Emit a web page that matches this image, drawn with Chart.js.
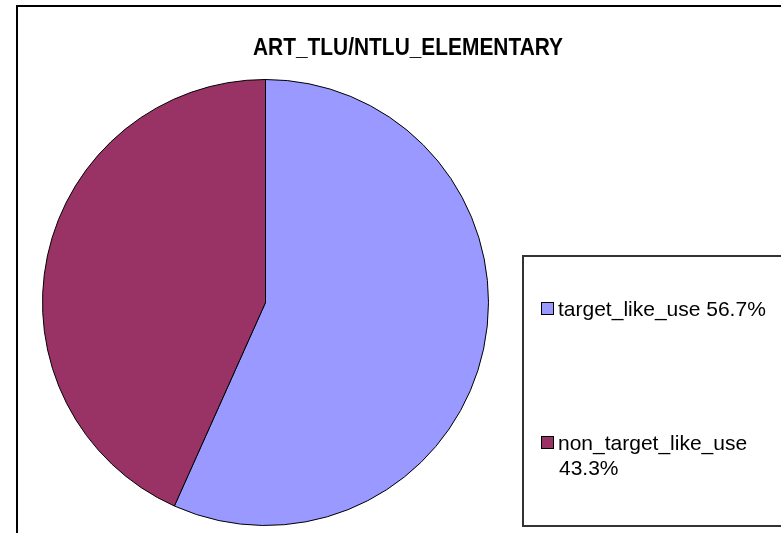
<!DOCTYPE html>
<html>
<head>
<meta charset="utf-8">
<script src="https://cdn.jsdelivr.net/npm/chart.js@4"></script>
<style>
  html, body { margin: 0; padding: 0; background: #ffffff; }
  #wrap { width: 781px; height: 533px; }
</style>
</head>
<body>
<div id="wrap"><canvas id="pie" width="781" height="533"></canvas></div>
<script>
// Chart data
const chartTitle = 'ART_TLU/NTLU_ELEMENTARY';
const categories = ['target_like_use', 'non_target_like_use'];
const shares = [56.7, 43.3];
const sliceColors = ['#9999FF', '#993366'];

// Frame, title and the boxed legend on the right
const decorations = {
  id: 'decorations',
  beforeDraw(chart) {
    const ctx = chart.ctx;
    ctx.save();
    ctx.fillStyle = '#ffffff';
    ctx.fillRect(0, 0, chart.width, chart.height);
    // outer frame (runs off the right and bottom edges)
    ctx.strokeStyle = '#000000';
    ctx.lineWidth = 2;
    ctx.strokeRect(17, 6, 900, 700);
    ctx.restore();
  },
  afterDraw(chart) {
    const ctx = chart.ctx;
    ctx.save();

    // title, slightly condensed bold
    ctx.fillStyle = '#000000';
    ctx.font = 'bold 23px "Liberation Sans", Arial, sans-serif';
    ctx.textBaseline = 'alphabetic';
    ctx.textAlign = 'left';
    const tw = ctx.measureText(chartTitle).width;
    const targetW = 310;
    ctx.save();
    ctx.translate(408 - targetW / 2, 55);
    ctx.scale(targetW / tw, 1);
    ctx.fillText(chartTitle, 0, 0);
    ctx.restore();

    // legend box
    ctx.strokeStyle = '#333333';
    ctx.lineWidth = 2;
    ctx.strokeRect(523, 256, 400, 270);

    // legend entries
    ctx.font = '21px "Liberation Sans", Arial, sans-serif';
    const textX = 558;
    const maxW = 215;
    const firstBaseline = 316;
    const itemStep = 134;
    const lineStep = 25;
    categories.forEach((name, i) => {
      const base = firstBaseline + i * itemStep;
      // swatch
      ctx.fillStyle = sliceColors[i];
      ctx.fillRect(541.5, base - 13.5, 12, 12);
      ctx.strokeStyle = '#000000';
      ctx.lineWidth = 1;
      ctx.strokeRect(541.5, base - 13.5, 12, 12);
      // label with word wrap
      const words = (name + ' ' + shares[i].toFixed(1) + '%').split(' ');
      const lines = [];
      let cur = '';
      words.forEach(w => {
        const trial = cur ? cur + ' ' + w : w;
        if (cur && ctx.measureText(trial).width > maxW) {
          lines.push(cur);
          cur = w;
        } else {
          cur = trial;
        }
      });
      if (cur) lines.push(cur);
      ctx.fillStyle = '#000000';
      lines.forEach((ln, k) => ctx.fillText(ln, textX + (k ? 1 : 0), base + k * lineStep));
    });
    ctx.restore();
  }
};

new Chart(document.getElementById('pie'), {
  type: 'pie',
  data: {
    labels: categories,
    datasets: [{
      data: shares,
      backgroundColor: sliceColors,
      borderColor: '#000000',
      borderWidth: 1,
      radius: 223
    }]
  },
  options: {
    responsive: false,
    animation: false,
    layout: { padding: { left: 42, right: 292, top: 80, bottom: 8 } },
    plugins: {
      legend: { display: false },
      title: { display: false },
      tooltip: { enabled: false }
    }
  },
  plugins: [decorations]
});
</script>
</body>
</html>
